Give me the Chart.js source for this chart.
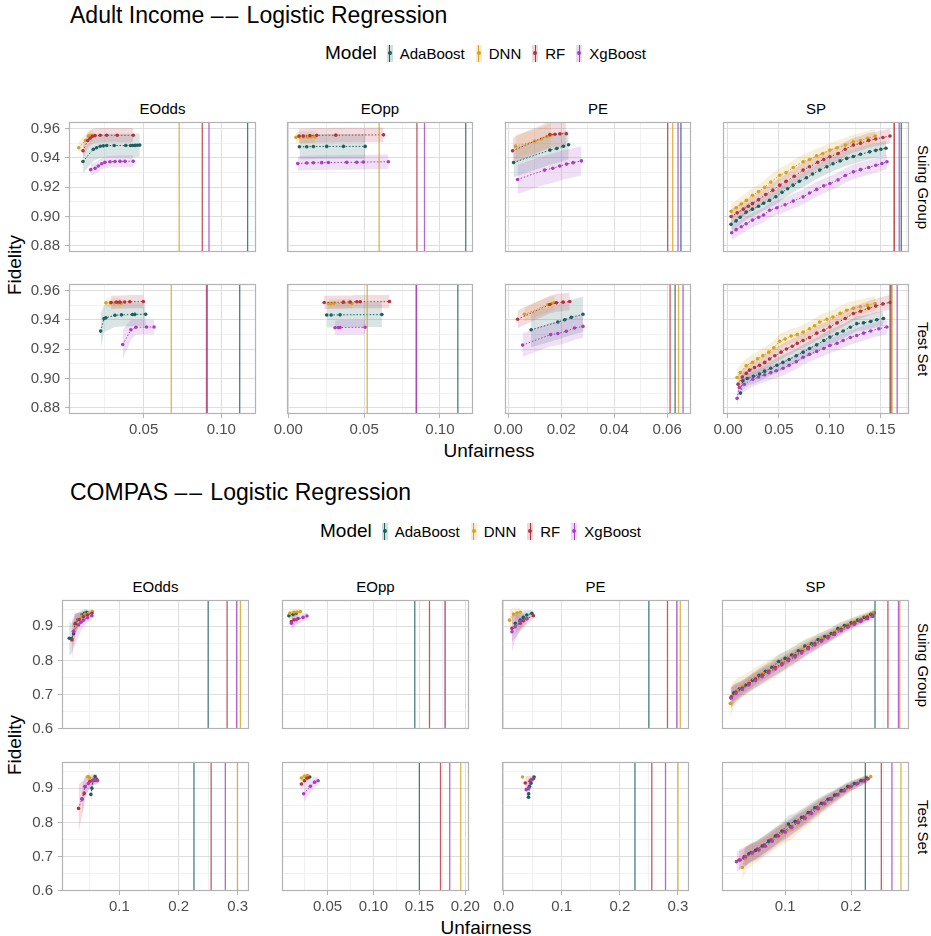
<!DOCTYPE html>
<html><head><meta charset="utf-8">
<script src="https://cdn.jsdelivr.net/npm/chart.js@4.4.1/dist/chart.umd.min.js"></script>
<style>
body{margin:0;background:#fff;width:931px;height:936px;position:relative;overflow:hidden;font-family:"Liberation Sans",Arial,sans-serif;}
.t{position:absolute;white-space:nowrap;line-height:1;color:#000;}
canvas{position:absolute;}
.leg{position:absolute;display:flex;align-items:center;white-space:nowrap;transform:translate(-50%,-50%);}
.leg .ttl{font-size:19px;margin-right:10px;}
.leg .lab{font-size:15px;margin-right:11px;}
.key{position:relative;display:inline-block;width:6px;height:17px;margin-right:7px;}
.key i{position:absolute;left:2.5px;top:0;width:1px;height:17px;}
.key b{position:absolute;left:1px;top:6.5px;width:4px;height:4px;border-radius:50%;}
.dash{letter-spacing:2px;}
</style></head><body>
<script>
// ---------------- data ----------------
const MODELS = ['AdaBoost','DNN','RF','XgBoost'];
const COLORS = ['#1b5f5f','#d6a21c','#b4313f','#a63fc4'];
const FACETS = ['EOdds','EOpp','PE','SP'];
const ROWS = ['Suing Group','Test Set'];

// tick labels
const adultYTicks = ['0.88','0.90','0.92','0.94','0.96'];
const adultXTicks = [['0.05','0.10'],['0.00','0.05','0.10'],['0.00','0.02','0.04','0.06'],['0.00','0.05','0.10','0.15']];
const compasYTicks = ['0.6','0.7','0.8','0.9'];
const compasXTicks = [['0.1','0.2','0.3'],['0.05','0.10','0.15','0.20'],['0.0','0.1','0.2','0.3'],['0.1','0.2']];

// axis limits
const adultY = [0.8757, 0.9646];
const adultX = [[0.0019,0.1224],[-0.0009,0.1218],[-0.00125,0.069],[-0.0049,0.1776]];
const compasY = [0.599, 0.977];
const compasX = [[0.003,0.319],[0.0005,0.204],[-0.0027,0.319],[0.0041,0.288]];

// series: [unfairness, fidelity, band half-width]
// ---- Adult, Suing Group ----
const a_sg_eodds_ada = [[0.0109,0.9376,0.008],[0.0176,0.946,0.008],[0.0197,0.947,0.008],[0.022,0.948,0.008],[0.024,0.9483,0.008],[0.0262,0.9485,0.008],[0.031,0.9485,0.008],[0.0385,0.9485,0.008],[0.0415,0.9485,0.008],[0.043,0.9485,0.008],[0.0445,0.9486,0.008],[0.046,0.9487,0.008],[0.0475,0.9488,0.008]];
const a_sg_eodds_dnn = [[0.0082,0.947,0.004],[0.0125,0.952,0.004],[0.0144,0.955,0.004],[0.0155,0.9553,0.004],[0.0165,0.9553,0.004],[0.0175,0.9555,0.004]];
const a_sg_eodds_rf  = [[0.0109,0.9449,0.005],[0.014,0.952,0.005],[0.0155,0.9535,0.005],[0.017,0.9548,0.005],[0.0187,0.9553,0.005],[0.022,0.9555,0.005],[0.0262,0.9555,0.005],[0.033,0.9555,0.005],[0.0433,0.9555,0.005]];
const a_sg_eodds_xgb = [[0.0159,0.932,0.004],[0.0187,0.933,0.004],[0.0208,0.9345,0.004],[0.023,0.936,0.004],[0.025,0.937,0.004],[0.0283,0.9374,0.004],[0.0315,0.9376,0.004],[0.0348,0.9377,0.004],[0.038,0.9377,0.004],[0.0433,0.9378,0.004]];
const a_sg_eopp_ada = [[0.0073,0.9477,0.0085],[0.0121,0.9477,0.0085],[0.0165,0.9478,0.0085],[0.0253,0.9479,0.0085],[0.0363,0.9479,0.0085],[0.0507,0.9479,0.0085]];
const a_sg_eopp_dnn = [[0.005,0.9541,0.004],[0.0075,0.9543,0.004],[0.01,0.9543,0.004],[0.0125,0.9543,0.004],[0.015,0.9544,0.004],[0.0176,0.9544,0.004]];
const a_sg_eopp_rf  = [[0.007,0.955,0.005],[0.0098,0.955,0.005],[0.0142,0.9553,0.005],[0.0187,0.9555,0.005],[0.0313,0.9556,0.005],[0.0628,0.9558,0.005]];
const a_sg_eopp_xgb = [[0.0062,0.9362,0.005],[0.0121,0.9366,0.005],[0.0165,0.9367,0.005],[0.022,0.9368,0.005],[0.0264,0.9369,0.005],[0.0385,0.937,0.005],[0.0451,0.9371,0.005],[0.0495,0.9372,0.005],[0.066,0.9374,0.005]];
const a_sg_pe_ada = [[0.002,0.9369,0.01],[0.0157,0.9454,0.01],[0.0183,0.9465,0.01],[0.0208,0.948,0.01],[0.0228,0.949,0.01]];
const a_sg_pe_dnn = [[0.0027,0.9481,0.008],[0.01,0.9515,0.008],[0.0125,0.953,0.008],[0.0145,0.9545,0.008],[0.0155,0.9552,0.008],[0.0162,0.9557,0.008]];
const a_sg_pe_rf  = [[0.0016,0.9449,0.009],[0.0157,0.956,0.009],[0.0176,0.9562,0.009],[0.0195,0.9565,0.009],[0.0219,0.9566,0.009]];
const a_sg_pe_xgb = [[0.0035,0.9253,0.01],[0.0137,0.9317,0.01],[0.0168,0.933,0.01],[0.0194,0.9345,0.01],[0.022,0.9358,0.01],[0.0245,0.9368,0.01],[0.0276,0.938,0.01]];
const a_sg_sp_ada = [[0.003,0.8946,0.005],[0.008,0.897,0.005],[0.012,0.8995,0.005],[0.0178,0.903,0.005],[0.024,0.905,0.005],[0.03,0.907,0.005],[0.035,0.909,0.005],[0.0408,0.911,0.005],[0.047,0.9135,0.005],[0.053,0.9165,0.005],[0.0585,0.919,0.005],[0.0638,0.9214,0.005],[0.07,0.924,0.005],[0.077,0.9265,0.005],[0.083,0.929,0.005],[0.09,0.9317,0.005],[0.097,0.934,0.005],[0.103,0.936,0.005],[0.11,0.938,0.005],[0.1164,0.9397,0.005],[0.123,0.941,0.005],[0.13,0.9425,0.005],[0.139,0.9442,0.005],[0.145,0.9452,0.005],[0.15,0.946,0.005],[0.155,0.9467,0.005]];
const a_sg_sp_dnn = [[0.003,0.9035,0.005],[0.008,0.906,0.005],[0.013,0.9085,0.005],[0.018,0.911,0.005],[0.024,0.9145,0.005],[0.03,0.917,0.005],[0.036,0.92,0.005],[0.042,0.9235,0.005],[0.0507,0.9282,0.005],[0.057,0.93,0.005],[0.064,0.9335,0.005],[0.0737,0.9374,0.005],[0.08,0.939,0.005],[0.087,0.9415,0.005],[0.093,0.943,0.005],[0.1,0.9454,0.005],[0.107,0.947,0.005],[0.115,0.9488,0.005],[0.123,0.951,0.005],[0.13,0.952,0.005],[0.137,0.9535,0.005],[0.1444,0.955,0.005]];
const a_sg_sp_rf  = [[0.003,0.9,0.005],[0.009,0.9025,0.005],[0.015,0.905,0.005],[0.02,0.907,0.005],[0.024,0.9088,0.005],[0.03,0.9115,0.005],[0.037,0.915,0.005],[0.044,0.918,0.005],[0.0507,0.9214,0.005],[0.057,0.924,0.005],[0.065,0.9275,0.005],[0.0737,0.9317,0.005],[0.08,0.934,0.005],[0.088,0.937,0.005],[0.094,0.939,0.005],[0.1,0.9408,0.005],[0.108,0.943,0.005],[0.115,0.946,0.005],[0.123,0.9488,0.005],[0.13,0.95,0.005],[0.138,0.952,0.005],[0.145,0.953,0.005],[0.152,0.954,0.005],[0.159,0.955,0.005]];
const a_sg_sp_xgb = [[0.0036,0.8889,0.005],[0.008,0.891,0.005],[0.013,0.893,0.005],[0.0178,0.895,0.005],[0.024,0.8975,0.005],[0.03,0.8995,0.005],[0.035,0.901,0.005],[0.0408,0.9042,0.005],[0.048,0.906,0.005],[0.056,0.908,0.005],[0.064,0.9105,0.005],[0.0737,0.9134,0.005],[0.08,0.916,0.005],[0.087,0.9185,0.005],[0.094,0.921,0.005],[0.1,0.9225,0.005],[0.108,0.925,0.005],[0.115,0.928,0.005],[0.123,0.9305,0.005],[0.13,0.932,0.005],[0.138,0.9335,0.005],[0.145,0.935,0.005],[0.151,0.9362,0.005],[0.156,0.9374,0.005]];
// ---- Adult, Test Set ----
const a_ts_eodds_ada = [[0.0223,0.9324,0.012],[0.0245,0.941,0.009],[0.0257,0.9415,0.009],[0.0315,0.9432,0.008],[0.0357,0.9435,0.008],[0.0428,0.9437,0.008],[0.0443,0.9438,0.008],[0.0513,0.9439,0.008]];
const a_ts_eodds_dnn = [[0.0257,0.9517,0.003],[0.0285,0.9517,0.003],[0.031,0.9517,0.003],[0.0335,0.9517,0.003],[0.0355,0.9515,0.003]];
const a_ts_eodds_rf  = [[0.029,0.952,0.0045],[0.0325,0.9522,0.0045],[0.0346,0.9522,0.0045],[0.0378,0.9523,0.0045],[0.0411,0.9525,0.0045],[0.0498,0.9526,0.0045]];
const a_ts_eodds_xgb = [[0.0365,0.9232,0.01],[0.0418,0.9333,0.007],[0.045,0.935,0.005],[0.0519,0.9352,0.005],[0.0567,0.9352,0.005]];
const a_ts_eopp_ada = [[0.0253,0.9434,0.0085],[0.0282,0.9434,0.0085],[0.0341,0.9435,0.0085],[0.0617,0.9437,0.0085]];
const a_ts_eopp_dnn = [[0.0264,0.9513,0.003],[0.028,0.9513,0.003],[0.03,0.9514,0.003],[0.042,0.9513,0.003]];
const a_ts_eopp_rf  = [[0.0236,0.952,0.0045],[0.0363,0.9522,0.0045],[0.0407,0.9523,0.0045],[0.0452,0.9525,0.0045],[0.0474,0.9525,0.0045],[0.0667,0.9526,0.0045]];
const a_ts_eopp_xgb = [[0.0308,0.9347,0.005],[0.033,0.9348,0.005],[0.0341,0.9349,0.005],[0.0507,0.935,0.005]];
const a_ts_pe_ada = [[0.0086,0.9333,0.012],[0.0187,0.9386,0.012],[0.0213,0.9402,0.012],[0.0238,0.9418,0.012],[0.0282,0.9439,0.012]];
const a_ts_pe_dnn = [[0.0061,0.9439,0.005],[0.015,0.9505,0.005],[0.0165,0.9513,0.005],[0.0175,0.952,0.005]];
const a_ts_pe_rf  = [[0.0035,0.9405,0.006],[0.0157,0.9506,0.006],[0.0182,0.9517,0.006],[0.0207,0.9522,0.006],[0.0232,0.9526,0.006]];
const a_ts_pe_xgb = [[0.0054,0.9228,0.008],[0.016,0.93,0.008],[0.0187,0.9307,0.008],[0.0219,0.9323,0.008],[0.025,0.9345,0.008],[0.0282,0.9356,0.008]];
const a_ts_sp_ada = [[0.0122,0.89,0.008],[0.0145,0.8984,0.006],[0.019,0.9,0.005],[0.025,0.9015,0.005],[0.0309,0.903,0.005],[0.036,0.905,0.005],[0.042,0.907,0.005],[0.048,0.909,0.005],[0.0539,0.911,0.005],[0.06,0.913,0.005],[0.067,0.9155,0.005],[0.0737,0.918,0.005],[0.08,0.9205,0.005],[0.087,0.923,0.005],[0.094,0.926,0.005],[0.1,0.9283,0.005],[0.107,0.9305,0.005],[0.113,0.9325,0.005],[0.12,0.935,0.005],[0.1263,0.9375,0.005],[0.133,0.938,0.005],[0.14,0.939,0.005],[0.146,0.9402,0.005],[0.1526,0.941,0.005]];
const a_ts_sp_dnn = [[0.0089,0.9007,0.006],[0.012,0.904,0.005],[0.0178,0.9087,0.005],[0.024,0.911,0.005],[0.029,0.9135,0.005],[0.0342,0.9156,0.005],[0.04,0.918,0.005],[0.045,0.921,0.005],[0.0507,0.9255,0.005],[0.056,0.927,0.005],[0.062,0.929,0.005],[0.068,0.93,0.005],[0.0737,0.9317,0.005],[0.08,0.934,0.005],[0.085,0.936,0.005],[0.09,0.9386,0.005],[0.097,0.9405,0.005],[0.103,0.942,0.005],[0.11,0.9445,0.005],[0.1164,0.9467,0.005],[0.123,0.948,0.005],[0.13,0.949,0.005],[0.137,0.95,0.005],[0.1444,0.9513,0.005]];
const a_ts_sp_rf  = [[0.0099,0.8961,0.006],[0.014,0.901,0.005],[0.018,0.9035,0.005],[0.0211,0.9057,0.005],[0.026,0.9075,0.005],[0.031,0.909,0.005],[0.036,0.911,0.005],[0.0408,0.9133,0.005],[0.046,0.9155,0.005],[0.052,0.918,0.005],[0.0573,0.9202,0.005],[0.063,0.922,0.005],[0.068,0.924,0.005],[0.0737,0.926,0.005],[0.08,0.928,0.005],[0.087,0.931,0.005],[0.094,0.933,0.005],[0.1,0.9352,0.005],[0.107,0.938,0.005],[0.115,0.941,0.005],[0.123,0.9444,0.005],[0.13,0.946,0.005],[0.138,0.948,0.005],[0.145,0.9495,0.005],[0.152,0.951,0.005],[0.159,0.952,0.005]];
const a_ts_sp_xgb = [[0.0089,0.8864,0.006],[0.0112,0.8938,0.005],[0.016,0.896,0.005],[0.0243,0.8995,0.005],[0.03,0.901,0.005],[0.036,0.9025,0.005],[0.042,0.904,0.005],[0.0474,0.9053,0.005],[0.054,0.907,0.005],[0.06,0.909,0.005],[0.067,0.9115,0.005],[0.0737,0.9145,0.005],[0.08,0.9165,0.005],[0.087,0.9185,0.005],[0.094,0.9205,0.005],[0.1,0.9225,0.005],[0.107,0.924,0.005],[0.113,0.926,0.005],[0.12,0.928,0.005],[0.1263,0.9294,0.005],[0.133,0.931,0.005],[0.14,0.9325,0.005],[0.148,0.934,0.005],[0.1559,0.9352,0.005]];
// ---- COMPAS, Suing Group ----
const c_sg_eodds_ada = [[0.0152,0.865,0.05],[0.019,0.864,0.045],[0.0225,0.878,0.04],[0.0254,0.905,0.03],[0.03,0.92,0.02],[0.0366,0.933,0.015],[0.041,0.938,0.012],[0.045,0.941,0.01]];
const c_sg_eodds_dnn = [[0.0254,0.899,0.03],[0.031,0.921,0.02],[0.036,0.929,0.015],[0.042,0.935,0.012],[0.048,0.939,0.01],[0.0545,0.943,0.008]];
const c_sg_eodds_rf  = [[0.0198,0.86,0.06],[0.0225,0.8845,0.04],[0.0254,0.909,0.03],[0.032,0.92,0.02],[0.0393,0.928,0.015],[0.046,0.933,0.012],[0.0535,0.938,0.01]];
const c_sg_eodds_xgb = [[0.0225,0.885,0.05],[0.031,0.904,0.035],[0.035,0.912,0.025],[0.0393,0.918,0.02],[0.046,0.925,0.015],[0.0535,0.931,0.012]];
const c_sg_eopp_ada = [[0.008,0.931,0.012],[0.0125,0.935,0.01],[0.016,0.938,0.008]];
const c_sg_eopp_dnn = [[0.009,0.938,0.012],[0.0136,0.941,0.01],[0.017,0.942,0.009],[0.0205,0.943,0.008]];
const c_sg_eopp_rf  = [[0.0107,0.914,0.02],[0.0136,0.919,0.015],[0.018,0.923,0.012]];
const c_sg_eopp_xgb = [[0.0107,0.909,0.02],[0.016,0.919,0.015],[0.0234,0.926,0.012],[0.0277,0.93,0.01]];
const c_sg_pe_ada = [[0.02,0.909,0.03],[0.0286,0.918,0.025],[0.034,0.926,0.02],[0.04,0.933,0.015],[0.0487,0.938,0.01]];
const c_sg_pe_dnn = [[0.0103,0.918,0.03],[0.0172,0.935,0.02],[0.023,0.939,0.015],[0.0286,0.941,0.012]];
const c_sg_pe_rf  = [[0.0144,0.894,0.04],[0.0286,0.909,0.025],[0.034,0.916,0.02],[0.04,0.922,0.015],[0.0514,0.931,0.01]];
const c_sg_pe_xgb = [[0.0144,0.884,0.06],[0.02,0.899,0.04],[0.0286,0.914,0.025],[0.04,0.922,0.015]];
const c_sg_sp_ada = [[0.018,0.69,0.03],[0.022,0.705,0.025],[0.03,0.716,0.02],[0.04,0.728,0.02],[0.05,0.742,0.02],[0.06,0.756,0.02],[0.07,0.768,0.02],[0.08,0.78,0.02],[0.09,0.797,0.02],[0.1,0.806,0.02],[0.11,0.816,0.02],[0.12,0.828,0.02],[0.13,0.842,0.018],[0.14,0.849,0.018],[0.15,0.861,0.018],[0.16,0.87,0.016],[0.17,0.879,0.016],[0.18,0.893,0.015],[0.19,0.902,0.014],[0.2,0.91,0.013],[0.21,0.918,0.012],[0.22,0.926,0.011],[0.23,0.935,0.01],[0.235,0.939,0.01]];
const c_sg_sp_dnn = [[0.0167,0.674,0.045],[0.02,0.695,0.04],[0.027,0.712,0.035],[0.035,0.724,0.03],[0.045,0.737,0.03],[0.055,0.75,0.03],[0.065,0.761,0.03],[0.075,0.77,0.03],[0.085,0.781,0.03],[0.095,0.793,0.028],[0.105,0.805,0.028],[0.115,0.818,0.026],[0.125,0.831,0.025],[0.135,0.843,0.024],[0.145,0.851,0.022],[0.155,0.862,0.02],[0.165,0.872,0.02],[0.175,0.884,0.018],[0.185,0.895,0.016],[0.195,0.905,0.015],[0.205,0.914,0.014],[0.215,0.922,0.013],[0.225,0.931,0.012],[0.234,0.94,0.01]];
const c_sg_sp_rf  = [[0.018,0.693,0.03],[0.025,0.707,0.025],[0.035,0.719,0.022],[0.045,0.732,0.022],[0.055,0.745,0.022],[0.065,0.757,0.022],[0.075,0.768,0.022],[0.085,0.779,0.022],[0.095,0.79,0.02],[0.105,0.803,0.02],[0.115,0.814,0.02],[0.125,0.826,0.02],[0.135,0.838,0.018],[0.145,0.849,0.018],[0.155,0.859,0.016],[0.165,0.869,0.016],[0.175,0.88,0.015],[0.185,0.891,0.014],[0.195,0.901,0.013],[0.205,0.91,0.012],[0.215,0.918,0.011],[0.225,0.927,0.01],[0.232,0.933,0.01]];
const c_sg_sp_xgb = [[0.018,0.69,0.03],[0.025,0.703,0.025],[0.035,0.715,0.022],[0.045,0.728,0.022],[0.055,0.741,0.022],[0.065,0.752,0.022],[0.075,0.764,0.02],[0.085,0.775,0.02],[0.095,0.787,0.02],[0.105,0.799,0.02],[0.115,0.81,0.02],[0.125,0.822,0.018],[0.135,0.834,0.018],[0.145,0.845,0.017],[0.155,0.856,0.016],[0.165,0.866,0.015],[0.175,0.876,0.014],[0.185,0.887,0.013],[0.195,0.897,0.012],[0.205,0.906,0.012],[0.215,0.914,0.011],[0.225,0.922,0.01],[0.233,0.929,0.01]];
// ---- COMPAS, Test Set ----
const c_ts_eodds_ada = [[0.0518,0.882,0.03],[0.0535,0.9,0.025],[0.0553,0.922,0.015],[0.059,0.934,0.01]];
const c_ts_eodds_dnn = [[0.0468,0.934,0.015],[0.05,0.93,0.01]];
const c_ts_eodds_rf  = [[0.031,0.841,0.07],[0.0366,0.869,0.05],[0.0405,0.885,0.04],[0.042,0.905,0.03],[0.05,0.92,0.02],[0.056,0.924,0.017],[0.062,0.926,0.015]];
const c_ts_eodds_xgb = [[0.037,0.868,0.04],[0.042,0.905,0.03],[0.0476,0.914,0.02],[0.0545,0.922,0.012],[0.059,0.923,0.01],[0.063,0.922,0.01]];
const c_ts_eopp_ada = [[0.027,0.932,0.01],[0.0307,0.933,0.01]];
const c_ts_eopp_dnn = [[0.0216,0.93,0.012],[0.025,0.935,0.01],[0.028,0.937,0.008]];
const c_ts_eopp_rf  = [[0.0216,0.9126,0.015],[0.025,0.922,0.012],[0.0285,0.93,0.01]];
const c_ts_eopp_xgb = [[0.0241,0.884,0.025],[0.0314,0.906,0.02],[0.036,0.918,0.015],[0.0398,0.922,0.012]];
const c_ts_pe_ada = [[0.0429,0.874,0.04],[0.0432,0.884,0.03],[0.0446,0.905,0.02],[0.047,0.915,0.015],[0.0526,0.933,0.01]];
const c_ts_pe_dnn = [[0.0326,0.933,0.01]];
const c_ts_pe_rf  = [[0.0372,0.9156,0.02],[0.0458,0.922,0.015],[0.0514,0.928,0.01]];
const c_ts_pe_xgb = [[0.039,0.896,0.025],[0.0429,0.9,0.02],[0.047,0.925,0.012]];
const c_ts_sp_ada = [[0.038,0.695,0.03],[0.045,0.708,0.028],[0.055,0.718,0.026],[0.065,0.731,0.026],[0.075,0.745,0.026],[0.085,0.76,0.026],[0.095,0.775,0.025],[0.105,0.795,0.025],[0.115,0.803,0.024],[0.125,0.815,0.024],[0.135,0.829,0.022],[0.145,0.843,0.022],[0.155,0.856,0.02],[0.165,0.868,0.018],[0.175,0.88,0.016],[0.185,0.893,0.015],[0.195,0.905,0.014],[0.205,0.914,0.012],[0.215,0.922,0.01],[0.224,0.93,0.01]];
const c_ts_sp_dnn = [[0.035,0.668,0.04],[0.04,0.694,0.035],[0.05,0.706,0.032],[0.06,0.717,0.03],[0.07,0.73,0.03],[0.08,0.744,0.03],[0.09,0.758,0.03],[0.1,0.77,0.03],[0.11,0.78,0.03],[0.12,0.796,0.028],[0.13,0.81,0.026],[0.14,0.825,0.025],[0.15,0.839,0.024],[0.16,0.853,0.022],[0.17,0.866,0.02],[0.18,0.88,0.018],[0.19,0.893,0.016],[0.2,0.905,0.015],[0.21,0.915,0.013],[0.22,0.925,0.012],[0.23,0.934,0.01]];
const c_ts_sp_rf  = [[0.03,0.69,0.03],[0.038,0.7,0.028],[0.048,0.712,0.026],[0.058,0.722,0.026],[0.068,0.734,0.026],[0.078,0.748,0.025],[0.088,0.762,0.025],[0.098,0.774,0.025],[0.108,0.788,0.024],[0.118,0.801,0.024],[0.128,0.815,0.023],[0.138,0.829,0.022],[0.148,0.843,0.021],[0.158,0.856,0.02],[0.168,0.869,0.018],[0.178,0.881,0.016],[0.188,0.893,0.015],[0.198,0.904,0.013],[0.208,0.913,0.012],[0.218,0.922,0.011],[0.225,0.928,0.01]];
const c_ts_sp_xgb = [[0.026,0.685,0.03],[0.032,0.69,0.028],[0.04,0.699,0.026],[0.05,0.71,0.026],[0.06,0.719,0.026],[0.07,0.73,0.025],[0.08,0.745,0.025],[0.09,0.76,0.025],[0.1,0.772,0.024],[0.11,0.786,0.024],[0.12,0.8,0.023],[0.13,0.812,0.022],[0.14,0.826,0.021],[0.15,0.84,0.02],[0.16,0.855,0.019],[0.17,0.868,0.018],[0.18,0.881,0.016],[0.19,0.893,0.015],[0.2,0.905,0.013],[0.21,0.914,0.012],[0.22,0.922,0.011],[0.226,0.928,0.01]];

// vertical reference lines: [AdaBoost, DNN, RF, XgBoost]
const a_sg_vl = [[0.117,0.0729,0.0878,0.0921],[0.117,0.0599,0.0848,0.0898],[0.0652,0.0621,0.0602,0.0641],[0.170,0.1628,0.1632,0.168]];
const a_ts_vl = [[0.1119,0.0678,0.0905,0.091],[0.1118,0.052,0.0843,0.0846],[0.063,0.0643,0.0611,0.066],[0.160,0.161,0.159,0.166]];
const c_sg_vl = [[0.25,0.3045,0.282,0.298],[0.145,0.178,0.161,0.178],[0.25,0.304,0.282,0.298],[0.2364,0.274,0.256,0.272]];
const c_ts_vl = [[0.226,0.2995,0.255,0.279],[0.15,0.195,0.173,0.183],[0.226,0.300,0.255,0.2786],[0.2217,0.2758,0.246,0.2621]];

// ---------------- layout ----------------
const FONT = '"Liberation Sans", Arial, sans-serif';
const BLOCKS = [
  { title:['Adult Income','Logistic Regression'], titleY:15, legendY:53, legendX:491, stripY:108,
    cols:[[69,256],[287,473],[505,691],[723,909]], rows:[[122,252],[284,414]],
    yLim:adultY, yTicks:adultYTicks, yStep:0.02, xLim:adultX, xTicks:adultXTicks,
    xSteps:[0.05,0.05,0.02,0.05], fidY:265, unfY:450, unfX:489,
    series:[[[a_sg_eodds_ada,a_sg_eodds_dnn,a_sg_eodds_rf,a_sg_eodds_xgb],[a_sg_eopp_ada,a_sg_eopp_dnn,a_sg_eopp_rf,a_sg_eopp_xgb],[a_sg_pe_ada,a_sg_pe_dnn,a_sg_pe_rf,a_sg_pe_xgb],[a_sg_sp_ada,a_sg_sp_dnn,a_sg_sp_rf,a_sg_sp_xgb]],
            [[a_ts_eodds_ada,a_ts_eodds_dnn,a_ts_eodds_rf,a_ts_eodds_xgb],[a_ts_eopp_ada,a_ts_eopp_dnn,a_ts_eopp_rf,a_ts_eopp_xgb],[a_ts_pe_ada,a_ts_pe_dnn,a_ts_pe_rf,a_ts_pe_xgb],[a_ts_sp_ada,a_ts_sp_dnn,a_ts_sp_rf,a_ts_sp_xgb]]],
    vl:[a_sg_vl,a_ts_vl] },
  { title:['COMPAS','Logistic Regression'], titleY:492, legendY:531, legendX:486, stripY:586,
    cols:[[62,249],[282,469],[502,689],[722,909]], rows:[[600,729],[762,891]],
    yLim:compasY, yTicks:compasYTicks, yStep:0.1, xLim:compasX, xTicks:compasXTicks,
    xSteps:[0.1,0.05,0.1,0.1], fidY:745, unfY:927, unfX:486,
    series:[[[c_sg_eodds_ada,c_sg_eodds_dnn,c_sg_eodds_rf,c_sg_eodds_xgb],[c_sg_eopp_ada,c_sg_eopp_dnn,c_sg_eopp_rf,c_sg_eopp_xgb],[c_sg_pe_ada,c_sg_pe_dnn,c_sg_pe_rf,c_sg_pe_xgb],[c_sg_sp_ada,c_sg_sp_dnn,c_sg_sp_rf,c_sg_sp_xgb]],
            [[c_ts_eodds_ada,c_ts_eodds_dnn,c_ts_eodds_rf,c_ts_eodds_xgb],[c_ts_eopp_ada,c_ts_eopp_dnn,c_ts_eopp_rf,c_ts_eopp_xgb],[c_ts_pe_ada,c_ts_pe_dnn,c_ts_pe_rf,c_ts_pe_xgb],[c_ts_sp_ada,c_ts_sp_dnn,c_ts_sp_rf,c_ts_sp_xgb]]],
    vl:[c_sg_vl,c_ts_vl] }
];

function rgba(hex,a){const n=parseInt(hex.slice(1),16);return `rgba(${n>>16},${(n>>8)&255},${n&255},${a})`;}
function addText(txt,x,y,size,opts={}){
  const d=document.createElement('div');d.className='t';d.textContent=txt;
  d.style.fontSize=size+'px';
  d.style.left=x+'px';d.style.top=y+'px';
  let tr='translate(-50%,-50%)';
  if(opts.left) tr='translate(0,-50%)';
  if(opts.rot) tr+=` rotate(${opts.rot}deg)`;
  d.style.transform=tr;
  document.body.appendChild(d);return d;
}
function addTitle(parts,y){
  const d=addText('',70,y,23,{left:true});
  const a=document.createElement('span');a.textContent=parts[0]+' ';
  const dsh=document.createElement('span');dsh.className='dash';dsh.textContent='\u2013\u2013';
  const b=document.createElement('span');b.textContent=' '+parts[1];
  d.appendChild(a);d.appendChild(dsh);d.appendChild(b);
}
function tickSet(labels, step, lim){
  const majors=labels.map(parseFloat);
  const all=[];
  const first=majors[0]-step, last=majors[majors.length-1]+step;
  for(let i=0;;i++){const m=first+i*step; if(m>last+1e-9)break; all.push(m); all.push(m+step/2);}
  const vals=all.filter(v=>v>lim[0]+1e-9&&v<lim[1]-1e-9);
  const isMajor=v=>majors.some(m=>Math.abs(m-v)<1e-7);
  const labelOf=v=>{const i=majors.findIndex(m=>Math.abs(m-v)<1e-7);return i>=0?labels[i]:'';};
  return {vals,isMajor,labelOf};
}

function makePanel(B,r,c){
  const [pl,pr]=B.cols[c],[pt,pb]=B.rows[r];
  const left=c===0, bottom=r===1;
  const ML=left?62:20, MR=20, MT=4, MB=bottom?30:4;
  const W=pr-pl+ML+MR, H=pb-pt+MT+MB;
  const cv=document.createElement('canvas');
  cv.width=W;cv.height=H;cv.style.left=(pl-ML)+'px';cv.style.top=(pt-MT)+'px';
  cv.style.width=W+'px';cv.style.height=H+'px';
  document.body.appendChild(cv);
  const xs=tickSet(B.xTicks[c],B.xSteps[c],B.xLim[c]);
  const ys=tickSet(B.yTicks,B.yStep,B.yLim);
  const ser=B.series[r][c];
  const datasets=[];
  for(let m=3;m>=0;m--){
    datasets.push({data:ser[m].map(p=>({x:p[0],y:p[1]})),borderColor:COLORS[m],backgroundColor:COLORS[m],
      borderWidth:1,borderDash:[1.5,1.8],pointRadius:1.8,pointBorderWidth:0,pointBackgroundColor:COLORS[m],
      tension:0,fill:false});
  }
  for(let m=3;m>=0;m--){
    const idx=datasets.length;
    datasets.push({data:ser[m].map(p=>({x:p[0],y:p[1]+p[2]})),borderWidth:0,pointRadius:0,
      backgroundColor:rgba(COLORS[m],0.17),fill:{target:idx+1},tension:0});
    datasets.push({data:ser[m].map(p=>({x:p[0],y:p[1]-p[2]})),borderWidth:0,pointRadius:0,fill:false,tension:0});
  }
  const vls=B.vl[r][c];
  const vlPlugin={id:'vl'+r+c,afterDatasetsDraw(chart){
    const {ctx,chartArea:a,scales:{x}}=chart;ctx.save();ctx.beginPath();ctx.rect(a.left,a.top,a.right-a.left,a.bottom-a.top);ctx.clip();
    for(let m=0;m<4;m++){const px=x.getPixelForValue(vls[m]);ctx.strokeStyle=rgba(COLORS[m],0.8);ctx.lineWidth=1.3;
      ctx.beginPath();ctx.moveTo(px,a.top);ctx.lineTo(px,a.bottom);ctx.stroke();}
    ctx.restore();}};
  const borderPlugin={id:'bd'+r+c,afterDraw(chart){const {ctx,chartArea:a}=chart;ctx.save();ctx.strokeStyle='#b3b3b3';ctx.lineWidth=1.2;
    ctx.strokeRect(Math.round(a.left)+0.5,Math.round(a.top)+0.5,Math.round(a.right-a.left)-1,Math.round(a.bottom-a.top)-1);ctx.restore();}};
  const gridOf=(S)=>({
    color:ctx=>(ctx.tick&&S.isMajor(ctx.tick.value))?'#dedede':'#ededed',
    lineWidth:ctx=>(ctx.tick&&S.isMajor(ctx.tick.value))?1:0.8,
    tickColor:ctx=>(ctx.tick&&S.isMajor(ctx.tick.value))?'#b3b3b3':'rgba(0,0,0,0)',
    tickLength:4,tickWidth:1
  });
  new Chart(cv,{type:'line',data:{datasets},
    options:{responsive:false,animation:false,devicePixelRatio:1,
      layout:{padding:{top:MT,right:MR,left:0,bottom:0}},
      plugins:{legend:{display:false},tooltip:{enabled:false}},
      scales:{
        x:{type:'linear',bounds:'data',min:B.xLim[c][0],max:B.xLim[c][1],
          afterBuildTicks:s=>{s.ticks=xs.vals.map(v=>({value:v}));},
          afterFit:s=>{s.height=MB;s.paddingLeft=0;s.paddingRight=0;},
          ticks:{display:bottom,autoSkip:false,maxRotation:0,callback:v=>xs.labelOf(v),font:{family:FONT,size:15},color:'#4d4d4d',padding:3},
          grid:Object.assign(gridOf(xs),{drawTicks:bottom}),border:{display:false}},
        y:{type:'linear',bounds:'data',min:B.yLim[0],max:B.yLim[1],
          afterBuildTicks:s=>{s.ticks=ys.vals.map(v=>({value:v}));},
          afterFit:s=>{s.width=ML;s.paddingTop=0;s.paddingBottom=0;},
          ticks:{display:left,autoSkip:false,callback:v=>ys.labelOf(v),font:{family:FONT,size:15},color:'#4d4d4d',padding:5},
          grid:Object.assign(gridOf(ys),{drawTicks:left}),border:{display:false}}
      }},
    plugins:[vlPlugin,borderPlugin]});
}

function makeLegend(B){
  const lg=document.createElement('div');lg.className='leg';lg.style.left=B.legendX+'px';lg.style.top=B.legendY+'px';
  let h='<span class="ttl">Model</span>';
  MODELS.forEach((m,i)=>{h+=`<span class="key" style="background:${rgba(COLORS[i],0.2)}"><i style="background:${COLORS[i]}"></i><b style="background:${COLORS[i]}"></b></span><span class="lab">${m}</span>`;});
  lg.innerHTML=h;document.body.appendChild(lg);
}

BLOCKS.forEach(B=>{
  addTitle(B.title,B.titleY);
  makeLegend(B);
  FACETS.forEach((f,c)=>addText(f,(B.cols[c][0]+B.cols[c][1])/2,B.stripY,15));
  ROWS.forEach((rn,r)=>addText(rn,923,(B.rows[r][0]+B.rows[r][1])/2,15,{rot:90}));
  addText('Fidelity',14,B.fidY,19,{rot:-90});
  addText('Unfairness',B.unfX,B.unfY,19);
  for(let r=0;r<2;r++)for(let c=0;c<4;c++)makePanel(B,r,c);
});
</script>
</body></html>
